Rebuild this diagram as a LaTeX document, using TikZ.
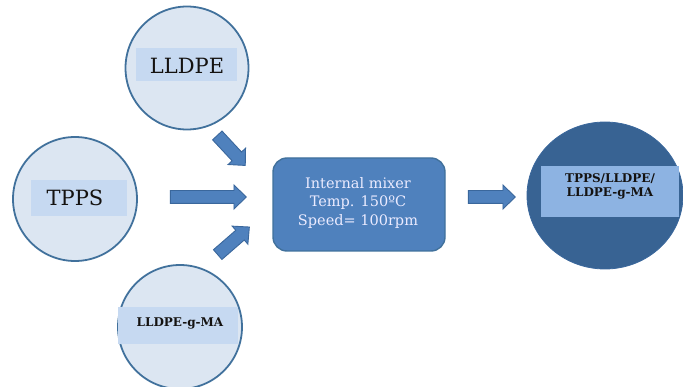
\documentclass[tikz,border=0pt]{standalone}
\usepackage{fontspec}
\setmainfont{DejaVu Serif}
\usetikzlibrary{shapes.arrows,shapes.geometric}
\definecolor{circfill}{HTML}{DCE6F2}
\definecolor{circline}{HTML}{41719C}
\definecolor{labfill}{HTML}{C6D9F1}
\definecolor{boxfill}{HTML}{4F81BD}
\definecolor{boxline}{HTML}{41719C}
\definecolor{darkfill}{HTML}{386393}
\definecolor{darklab}{HTML}{8DB3E2}
\definecolor{arrline}{HTML}{3A679C}
\definecolor{txt}{HTML}{141210}
\tikzset{
  incirc/.style={circle, draw=circline, line width=1.8pt, fill=circfill, minimum size=#1, inner sep=0pt},
  lab/.style={fill=labfill, inner sep=0pt, text=txt},
  blockarrow/.style={single arrow, draw=arrline, line width=0.9pt, fill=boxfill,
    inner xsep=0pt, inner ysep=6pt, single arrow head extend=5.5pt,
    single arrow tip angle=88, minimum height=#1},
}
\begin{document}
\begin{tikzpicture}[x=1pt,y=-1pt]
\useasboundingbox (0,0) rectangle (683,387);
% input circles
\node[incirc=123pt] (c1) at (187,68) {};
\node[lab, minimum width=101pt, minimum height=33pt] (l1) at (186.5,64.5) {};
\node[text=txt, font=\fontsize{21}{24}\selectfont] (t1) at (187,66) {LLDPE};

\node[incirc=124pt] (c2) at (75,199) {};
\node[lab, minimum width=96pt, minimum height=36pt] (l2) at (79,198) {};
\node[text=txt, font=\fontsize{21}{24}\selectfont] (t2) at (75,198) {TPPS};

\node[incirc=124pt] (c3) at (180,327) {};
\node[lab, minimum width=120pt, minimum height=37pt] (l3) at (178,325.5) {};
\node[text=txt, font=\bfseries\fontsize{12}{14}\selectfont] (t3) at (180,323) {LLDPE-g-MA};

% mixer
\node[draw=boxline, line width=1.4pt, fill=boxfill, rounded corners=14pt,
      minimum width=172pt, minimum height=93pt] (mix) at (359,204.5) {};
\node[text=white!92!blue, align=center, font=\fontsize{14.5}{18.5}\selectfont] (mt) at (358,203)
  {Internal mixer\\Temp. 150ºC\\Speed= 100rpm};

% product
\node[ellipse, draw=arrline, line width=0.8pt, fill=darkfill, minimum width=156pt, minimum height=147pt, inner sep=0pt] (prod) at (605,195.5) {};
\node[fill=darklab, minimum width=138pt, minimum height=51pt, inner sep=0pt] (pl) at (610,191.5) {};
\node[text=txt, align=center, font=\bfseries\fontsize{12}{14}\selectfont] (pt) at (610,186) {TPPS/LLDPE/\\LLDPE-g-MA};

% block arrows
\node[blockarrow=41pt, rotate=-47] (a1) at (229,148) {};
\node[blockarrow=76pt] (a2) at (205,197) {};
\node[blockarrow=42pt, rotate=41] (a3) at (231,243) {};
\node[blockarrow=47pt] (a4) at (488.5,197) {};
\end{tikzpicture}
\end{document}
